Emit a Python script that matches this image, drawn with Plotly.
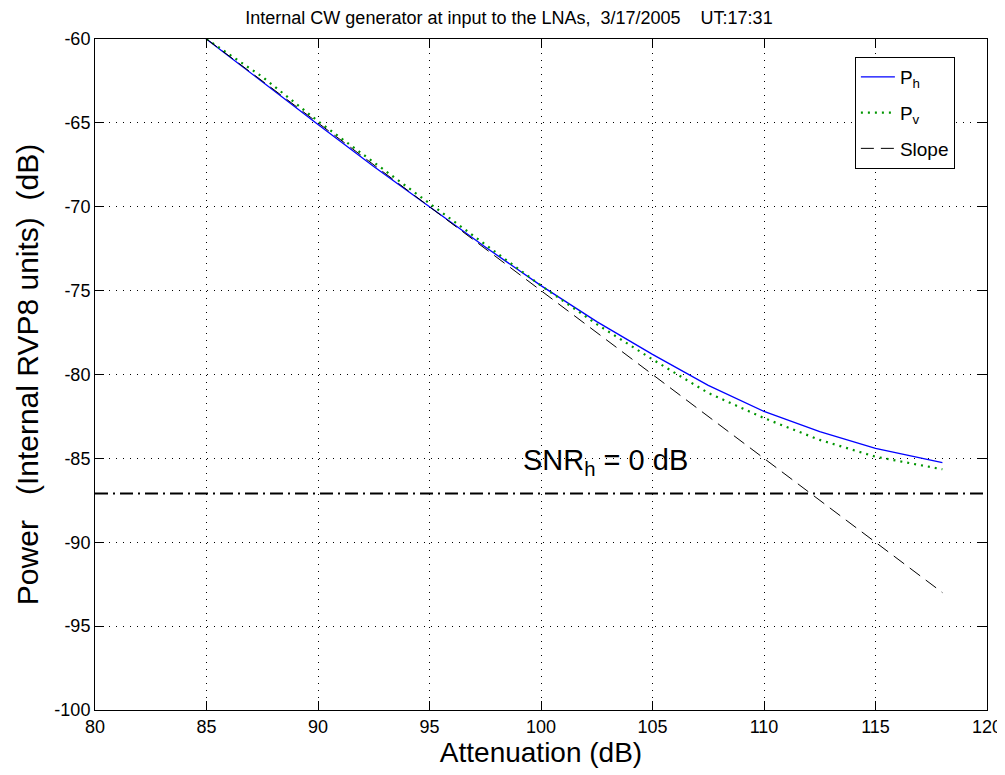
import plotly.graph_objects as go

# Data
atten_h = [84.5, 85, 87.5, 90, 92.5, 95, 97.5, 100, 102.5, 105, 107.5, 110, 112.5, 115, 118]
p_h = [-59.5, -60.0, -62.55, -65.1, -67.6, -70.0, -72.4, -74.7, -76.85, -78.8, -80.65, -82.2, -83.4, -84.4, -85.25]

atten_v = [85, 87.5, 90, 92.5, 95, 97.5, 100, 102.5, 105, 107.5, 110, 112.5, 115, 118]
p_v = [-60.0, -62.25, -64.9, -67.35, -69.8, -72.25, -74.7, -77.0, -79.1, -81.1, -82.6, -83.9, -84.9, -85.65]

slope_x = [85, 118]
slope_y = [-60, -93]

snr_level = -87.1
x_range = [80, 120]
y_range = [-100, -60]
x_ticks = [80, 85, 90, 95, 100, 105, 110, 115, 120]
y_ticks = [-100, -95, -90, -85, -80, -75, -70, -65, -60]

FONT = "Liberation Sans, Arial, sans-serif"
NB = "\u00a0"

fig = go.Figure()
fig.add_trace(go.Scatter(x=atten_h, y=p_h, mode="lines", name="P<sub>h</sub>",
                         line=dict(color="rgb(0,0,255)", width=1.3), legendgroup="a"))
fig.add_trace(go.Scatter(x=atten_v, y=p_v, mode="lines", name="P<sub>v</sub>",
                         line=dict(color="rgb(0,150,0)", width=2.2, dash="2px,5px"), legendgroup="b"))
fig.add_trace(go.Scatter(x=slope_x, y=slope_y, mode="lines", name="Slope",
                         line=dict(color="black", width=1, dash="13px,7px"), legendgroup="c"))
fig.add_trace(go.Scatter(x=x_range, y=[snr_level, snr_level], mode="lines", showlegend=False,
                         line=dict(color="black", width=2, dash="13px,5px,2px,5px")))

fig.add_annotation(x=99.1, y=-85.2, xref="x", yref="y", xanchor="left", yanchor="middle",
                   text="SNR<sub>h</sub> = 0 dB", showarrow=False,
                   font=dict(family=FONT, size=29, color="black"))

axis_common = dict(showline=True, linecolor="black", linewidth=1, mirror="ticks",
                   ticks="inside", ticklen=9, tickcolor="black", automargin=False,
                   showgrid=True, gridcolor="black", griddash="1px,6px", gridwidth=1,
                   zeroline=False, tickfont=dict(family=FONT, size=18, color="black"))

fig.update_xaxes(range=x_range, tickvals=x_ticks, ticktext=[str(v) for v in x_ticks],
                 title=dict(text="Attenuation (dB)", font=dict(family=FONT, size=28, color="black"), standoff=2),
                 **axis_common)
fig.update_yaxes(range=y_range, tickvals=y_ticks, ticktext=[str(v) for v in y_ticks],
                 title=dict(text="Power" + NB * 3 + "(Internal RVP8 units)" + NB * 2 + "(dB)",
                            font=dict(family=FONT, size=30, color="black"), standoff=6),
                 **axis_common)

fig.update_layout(
    width=997, height=767,
    margin=dict(l=87, r=18, t=31, b=65, autoexpand=False),
    plot_bgcolor="white", paper_bgcolor="white",
    title=dict(text="Internal CW generator at input to the LNAs," + NB * 2 + "3/17/2005" + NB * 4 + "UT:17:31",
               x=0.5025, xanchor="center", y=0.995, yanchor="top",
               font=dict(family=FONT, size=18, color="black")),
    legend=dict(x=0.964, y=0.973, xanchor="right", yanchor="top",
                bgcolor="white", bordercolor="black", borderwidth=1,
                font=dict(family=FONT, size=19, color="black"),
                traceorder="grouped", tracegroupgap=8, itemwidth=34),
    showlegend=True,
)

fig.write_html("out.html")
